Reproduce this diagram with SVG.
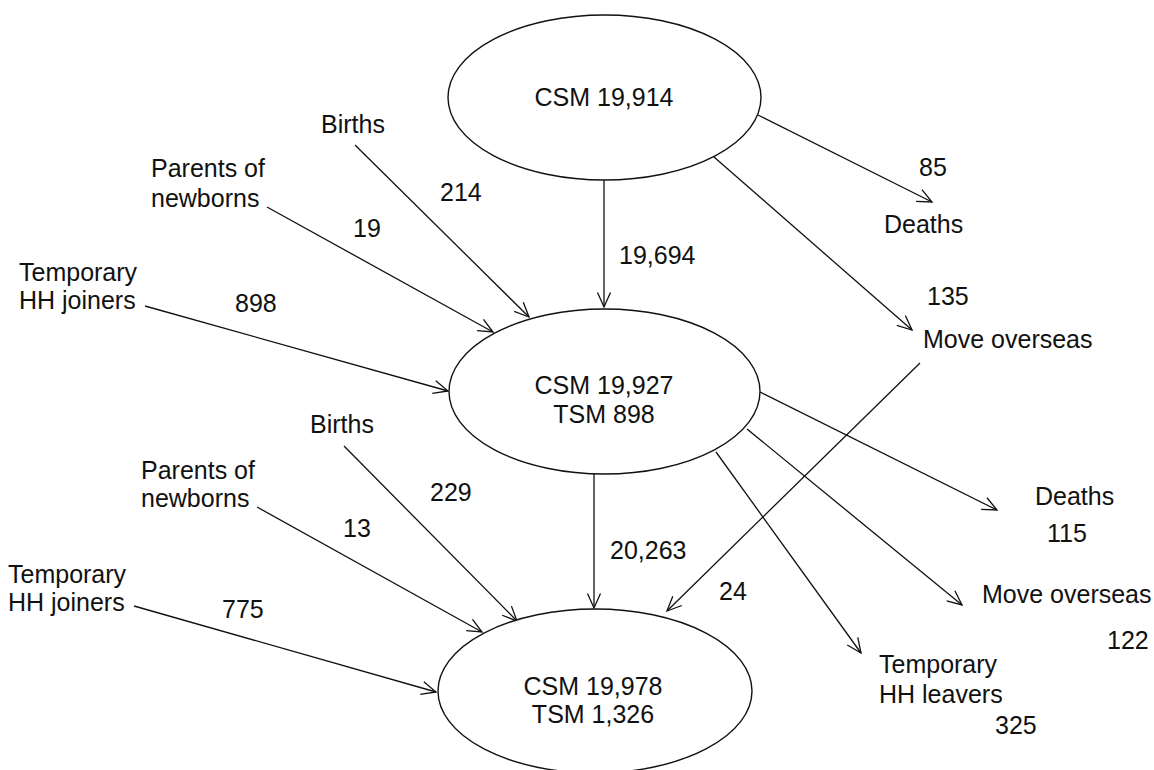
<svg xmlns="http://www.w3.org/2000/svg" width="1154" height="770" viewBox="0 0 1154 770">
<style>
.t{font-family:"Liberation Sans",Arial,sans-serif;font-size:25px;fill:#111}
.m{text-anchor:middle}
.e{fill:#fff;stroke:#111;stroke-width:1.4}
.c line{stroke:#111;stroke-width:1.3;marker-end:url(#ah)}
</style>
<defs>
<marker id="ah" markerUnits="userSpaceOnUse" markerWidth="18" markerHeight="16" refX="16" refY="8" orient="auto">
<path d="M1.5,1.5 L16,8 L1.5,14.5" fill="none" stroke="#111" stroke-width="1.3"/>
</marker>
</defs>
<rect width="1154" height="770" fill="#fff"/>
<g class="c" id="connectors">
<line x1="604" y1="180" x2="604" y2="307"/>
<line x1="355" y1="145" x2="529" y2="317"/>
<line x1="267" y1="207" x2="493" y2="332"/>
<line x1="145" y1="306" x2="448" y2="391"/>
<line x1="758" y1="115" x2="932" y2="202"/>
<line x1="714" y1="157" x2="912" y2="330"/>
<line x1="594" y1="474" x2="594" y2="608"/>
<line x1="920" y1="363" x2="667" y2="611"/>
<line x1="760" y1="392" x2="997" y2="510"/>
<line x1="747" y1="429" x2="962" y2="605"/>
<line x1="716" y1="452" x2="861" y2="653"/>
<line x1="344" y1="446" x2="517" y2="621"/>
<line x1="257" y1="507" x2="482" y2="632"/>
<line x1="134" y1="606" x2="436" y2="692"/>
</g>
<g id="csm1">
<ellipse class="e" cx="604.5" cy="97.5" rx="156.5" ry="82.5"/>
<text class="t m" x="604" y="106">CSM 19,914</text>
</g>
<g id="csm2">
<ellipse class="e" cx="604.5" cy="391.5" rx="155.5" ry="82.5"/>
<text class="t m" x="604" y="394">CSM 19,927</text>
<text class="t m" x="604" y="423">TSM 898</text>
</g>
<g id="csm3">
<ellipse class="e" cx="595" cy="691" rx="157" ry="82"/>
<text class="t m" x="593" y="695">CSM 19,978</text>
<text class="t m" x="593" y="723">TSM 1,326</text>
</g>
<g id="labels1">
<text class="t" x="321" y="133">Births</text>
<text class="t" x="151" y="177">Parents of</text>
<text class="t" x="151" y="207">newborns</text>
<text class="t" x="19" y="281">Temporary</text>
<text class="t" x="19" y="309">HH joiners</text>
<text class="t" x="440" y="201">214</text>
<text class="t" x="353" y="237">19</text>
<text class="t" x="235" y="312">898</text>
<text class="t" x="619" y="264">19,694</text>
<text class="t" x="919" y="176">85</text>
<text class="t" x="884" y="233">Deaths</text>
<text class="t" x="927" y="305">135</text>
<text class="t" x="923" y="348">Move overseas</text>
</g>
<g id="labels2">
<text class="t" x="310" y="433">Births</text>
<text class="t" x="141" y="479">Parents of</text>
<text class="t" x="141" y="507">newborns</text>
<text class="t" x="8" y="583">Temporary</text>
<text class="t" x="8" y="611">HH joiners</text>
<text class="t" x="430" y="501">229</text>
<text class="t" x="343" y="537">13</text>
<text class="t" x="222" y="618">775</text>
<text class="t" x="610" y="559">20,263</text>
<text class="t" x="719" y="600">24</text>
<text class="t" x="1035" y="505">Deaths</text>
<text class="t" x="1047" y="542">115</text>
<text class="t" x="982" y="603">Move overseas</text>
<text class="t" x="1107" y="649">122</text>
<text class="t" x="879" y="673">Temporary</text>
<text class="t" x="879" y="703">HH leavers</text>
<text class="t" x="995" y="734">325</text>
</g>
</svg>
